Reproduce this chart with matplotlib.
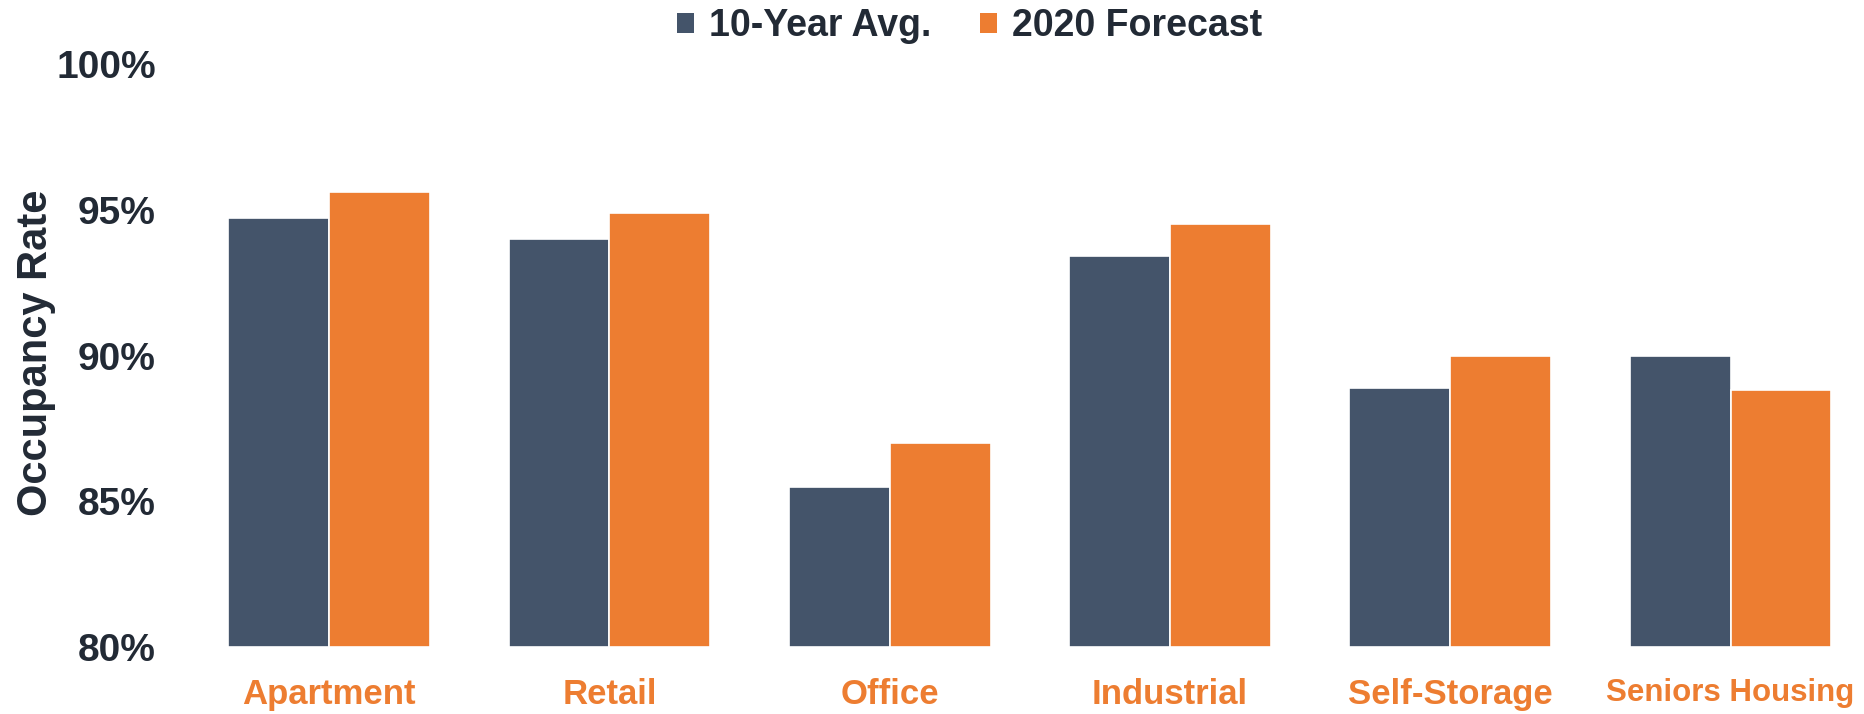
import matplotlib
matplotlib.use("Agg")
import matplotlib.pyplot as plt
from matplotlib.patches import Patch
import numpy as np

DARK = "#44546A"
ORANGE = "#ED7D31"
INK = "#222A35"

categories = ["Apartment", "Retail", "Office", "Industrial", "Self-Storage", "Seniors Housing"]
ten_year_avg = [94.7, 94.0, 85.5, 93.4, 88.9, 90.0]
forecast_2020 = [95.6, 94.9, 87.0, 94.5, 90.0, 88.8]
series_names = ["10-Year Avg.", "2020 Forecast"]
y_ticks = [80, 85, 90, 95, 100]

plt.rcParams["font.family"] = ["Liberation Sans", "DejaVu Sans"]

fig = plt.figure(figsize=(18.64, 7.14), dpi=100)
ax = fig.add_axes([189 / 1864, (714 - 647) / 714, 1 - 189 / 1864, (647 - 64) / 714])

x = np.arange(len(categories))
w = 0.36
ax.bar(x - w / 2, np.array(ten_year_avg) - 80, w, bottom=80, color=DARK,
       edgecolor="white", linewidth=1.2)
ax.bar(x + w / 2, np.array(forecast_2020) - 80, w, bottom=80, color=ORANGE,
       edgecolor="white", linewidth=1.2)

ax.set_xlim(-0.5, 5.476)
ax.set_ylim(80, 100)
ax.set_yticks(y_ticks)
ax.set_yticklabels([f"{t}%" for t in y_ticks], fontsize=28, fontweight="bold", color=INK)
ax.set_xticks(x)
ax.set_xticklabels(categories, fontsize=25, fontweight="bold", color=ORANGE)
# the long last label has to fit inside the right edge
ax.get_xticklabels()[-1].set_fontsize(22.5)
ax.tick_params(axis="y", length=0, pad=24)
ax.tick_params(axis="x", length=0, pad=22)
for s in ax.spines.values():
    s.set_visible(False)

fig.text(36 / 1864, 1 - 353 / 714, "Occupancy Rate", rotation=90, fontsize=30,
         fontweight="bold", color=INK, ha="center", va="center")

handles = [Patch(facecolor=DARK), Patch(facecolor=ORANGE)]
fig.legend(handles, series_names, loc="center", bbox_to_anchor=(0.52, 1 - 26 / 714),
           ncol=2, frameon=False, handlelength=0.45, handleheight=0.45,
           handletextpad=0.4, columnspacing=1.3,
           prop={"size": 27, "weight": "bold"}, labelcolor=INK)

fig.savefig("out.png", dpi=100, facecolor="white")
